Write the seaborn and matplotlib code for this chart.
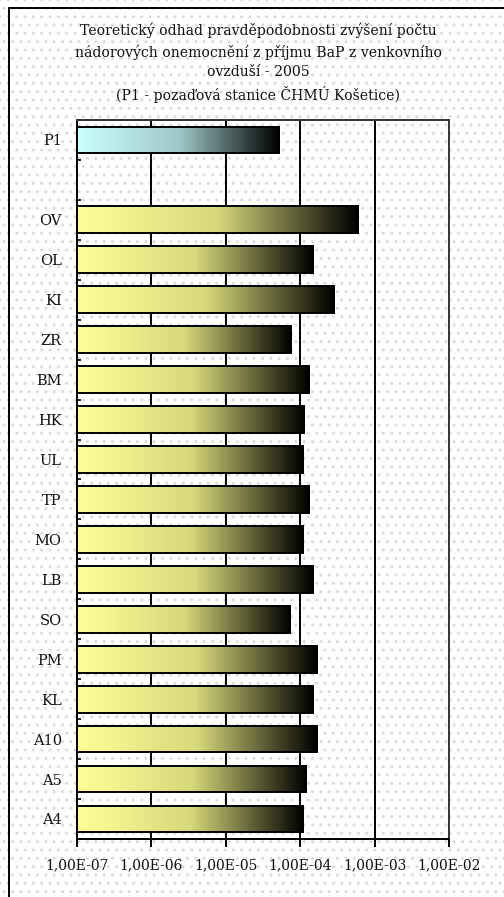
import numpy as np
import pandas as pd
import matplotlib
matplotlib.use("Agg")
import matplotlib.pyplot as plt
import seaborn as sns
from matplotlib.colors import LinearSegmentedColormap
from matplotlib.lines import Line2D
from matplotlib.patches import Rectangle

# ---- data ----
order = ["P1", " ", "OV", "OL", "KI", "ZR", "BM", "HK", "UL", "TP", "MO",
         "LB", "SO", "PM", "KL", "A10", "A5", "A4"]
stations = ["P1", "OV", "OL", "KI", "ZR", "BM", "HK", "UL", "TP", "MO",
            "LB", "SO", "PM", "KL", "A10", "A5", "A4"]
risk = [5.2e-5, 5.9e-4, 1.5e-4, 2.85e-4, 7.6e-5, 1.32e-4, 1.14e-4, 1.10e-4,
        1.32e-4, 1.10e-4, 1.5e-4, 7.3e-5, 1.66e-4, 1.5e-4, 1.66e-4, 1.2e-4, 1.10e-4]
xtick_vals = [1e-7, 1e-6, 1e-5, 1e-4, 1e-3, 1e-2]
xtick_labels = ["1,00E-07", "1,00E-06", "1,00E-05", "1,00E-04", "1,00E-03", "1,00E-02"]
title = ("Teoretický odhad pravděpodobnosti zvýšení počtu\n"
         "nádorových onemocnění z příjmu BaP z venkovního\n"
         "ovzduší - 2005\n"
         "(P1 - pozaďová stanice ČHMÚ Košetice)")

df = pd.DataFrame({"station": stations, "risk": risk})

sns.set_theme(style="white")
plt.rcParams["font.family"] = ["DejaVu Serif"]

fig = plt.figure(figsize=(5.04, 8.97), dpi=100)
fig.patch.set_facecolor("white")
# dotted background
bg = Rectangle((0, 0), 1, 1, transform=fig.transFigure, facecolor="white",
               edgecolor="#dcdcdc", hatch="..", linewidth=0, zorder=-10)
fig.patches.append(bg)

ax = fig.add_axes([0.1528, 0.0647, 0.738, 0.8015])
ax.patch.set_alpha(0)

sns.barplot(data=df, y="station", x="risk", order=order, orient="h",
            width=0.67, color="white", edgecolor="black", linewidth=1.4,
            ax=ax, zorder=3)
ax.set_xscale("log")
ax.set_xlim(xtick_vals[0], xtick_vals[-1])
ax.set_ylim(len(order) - 0.5, -0.5)

xmin = ax.get_xlim()[0]
to_axes = ax.transData + ax.transAxes.inverted()
grad = np.linspace(0, 1, 256).reshape(1, -1)
cmap_y = LinearSegmentedColormap.from_list("yel", ["#ffff99", "#d8d87c", "#000000"])
cmap_c = LinearSegmentedColormap.from_list("cya", ["#ccffff", "#a0c8c8", "#000000"])
for p in ax.patches:
    right = p.get_x() + p.get_width()
    if not np.isfinite(right) or right <= 0:
        continue
    p.set_x(xmin)
    p.set_width(right - xmin)
    p.set_facecolor("none")
    y0, y1 = p.get_y(), p.get_y() + p.get_height()
    (ax0, ay0), (ax1, ay1) = to_axes.transform([(xmin, y0), (right, y1)])
    label_idx = int(round((y0 + y1) / 2))
    cmap = cmap_c if order[label_idx] == "P1" else cmap_y
    ax.imshow(grad, cmap=cmap, aspect="auto", transform=ax.transAxes,
              extent=[ax0, ax1, min(ay0, ay1), max(ay0, ay1)], zorder=2,
              interpolation="bilinear")
ax.set_xlim(xtick_vals[0], xtick_vals[-1])
ax.set_ylim(len(order) - 0.5, -0.5)

ax.set_xticks(xtick_vals)
ax.set_xticklabels(xtick_labels)
ax.xaxis.set_minor_locator(matplotlib.ticker.NullLocator())
ax.set_yticks(range(len(order)))
ax.set_yticklabels(order)
ax.set_yticks(np.arange(-0.5, len(order), 1), minor=True)
ax.set_xlabel("")
ax.set_ylabel("")

ax.grid(False)
for xv in xtick_vals[1:-1]:
    ax.axvline(xv, color="black", linewidth=1.4, zorder=1)

for s in ax.spines.values():
    s.set_visible(True)
    s.set_color("#333333")
    s.set_linewidth(1.4)
ax.spines["left"].set_color("black")
ax.spines["bottom"].set_color("black")

ax.tick_params(axis="x", which="major", bottom=True, direction="out", length=6,
               width=1.4, color="black", labelsize=10, pad=8, labelcolor="#111111")
ax.tick_params(axis="y", which="major", left=False, length=0, labelsize=10.5,
               pad=11, labelcolor="#111111")
ax.tick_params(axis="y", which="minor", left=True, direction="in", length=3,
               width=1.2, color="black")

fig.text(0.512, 1 - 23 / 897, title, ha="center", va="top", fontsize=10.1,
         linespacing=1.47, color="#111111")

# chart border (left and top)
fig.add_artist(Line2D([8.5 / 504, 8.5 / 504], [0, 1 - 8.5 / 897],
                      transform=fig.transFigure, color="black", linewidth=1.4))
fig.add_artist(Line2D([8.5 / 504, 1], [1 - 8.5 / 897, 1 - 8.5 / 897],
                      transform=fig.transFigure, color="black", linewidth=1.4))

fig.savefig("out.png", dpi=100)
